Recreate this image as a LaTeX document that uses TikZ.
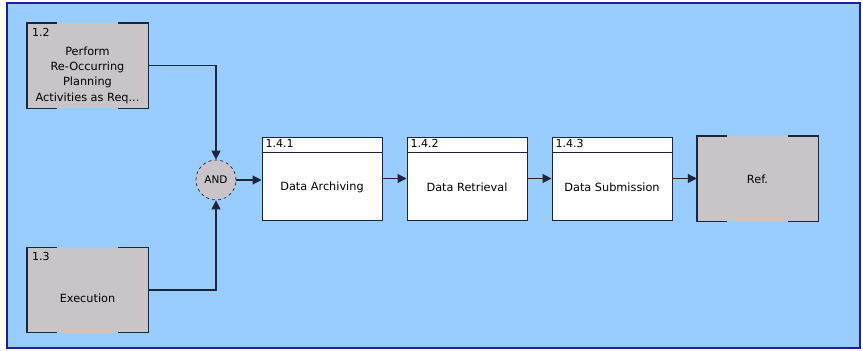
\documentclass[tikz,border=0pt]{standalone}
\usepackage{fontspec}
\setmainfont{DejaVu Sans}
\usetikzlibrary{arrows.meta,calc}
\definecolor{bgblue}{RGB}{153,204,255}
\definecolor{frameblue}{RGB}{30,30,160}
\definecolor{boxgray}{RGB}{200,196,200}
\definecolor{edge}{RGB}{30,36,60}
\tikzset{
  ext/.style={fill=boxgray, draw=none, minimum width=121pt, minimum height=85pt, inner sep=0pt},
  proc/.style={fill=white, draw=edge, line width=1pt, minimum width=120pt, minimum height=83pt, inner sep=0pt},
  idlabel/.style={anchor=north west, inner sep=0pt, font=\fontsize{11}{12}\selectfont},
  bodytext/.style={inner sep=0pt, font=\fontsize{11.3}{12}\selectfont},
  andnode/.style={circle, fill=boxgray, draw=edge, dashed, line width=0.7pt, minimum size=40pt, inner sep=0pt, font=\fontsize{10.5}{12}\selectfont},
  flow/.style={draw=edge, line width=1.1pt, -{Triangle[length=9pt,width=9pt]}},
  corner/.style={draw=edge, line width=1.4pt},
}
\newcommand{\cornerbox}[1]{%
  \draw[corner] ($(#1.north west)+(30,0)$) -- (#1.north west) -- (#1.south west) -- ++(30,0);
  \draw[corner] ($(#1.north east)+(-30,0)$) -- (#1.north east) -- (#1.south east) -- ++(-30,0);
}
\begin{document}
\begin{tikzpicture}[x=1pt,y=-1pt]
\useasboundingbox (0,0) rectangle (863,351);
\fill[white] (0,0) rectangle (863,351);
\draw[fill=bgblue, draw=frameblue, line width=2pt] (7,3) rectangle (860,348);

% external boxes
\node[ext] (p12) at (87.5,65.5) {};
\cornerbox{p12}
\node[idlabel] (p12id) at (32,28) {1.2};
\node[bodytext, align=center, font=\fontsize{11.3}{15.3}\selectfont] (p12txt) at (87.5,75) {Perform\\Re-Occurring\\Planning\\Activities as Req...};

\node[ext] (p13) at (87.5,290) {};
\cornerbox{p13}
\node[idlabel] (p13id) at (32,252) {1.3};
\node[bodytext] (p13txt) at (87.5,298) {Execution};

% AND junction
\node[andnode] (and) at (216,180) {AND};

% process boxes
\foreach \nm/\cx/\id/\txt in {b141/322/1.4.1/Data Archiving, b142/467/1.4.2/Data Retrieval, b143/612/1.4.3/Data Submission}{
  \node[proc] (\nm) at (\cx,178.5) {};
  \draw[draw=edge, line width=1pt] ($(\nm.north west)+(0,16)$) -- ($(\nm.north east)+(0,16)$);
  \node[idlabel] (\nm id) at ($(\nm.north west)+(4,3)$) {\id};
  \node[bodytext] (\nm txt) at ($(\nm.center)+(0,9)$) {\txt};
}

% reference box
\node[ext] (ref) at (757.5,178.5) {};
\cornerbox{ref}
\node[bodytext] (reftxt) at (757.5,179) {Ref.};

% connectors
\draw[flow] (p12.east) -| (and.north);
\draw[flow] (p13.east) -| (and.south);
\draw[flow] (and.east) -- (and.east -| b141.west);
\draw[flow] (b141.east) -- (b142.west);
\draw[flow] (b142.east) -- (b143.west);
\draw[flow] (b143.east) -- (ref.west);
\end{tikzpicture}
\end{document}
